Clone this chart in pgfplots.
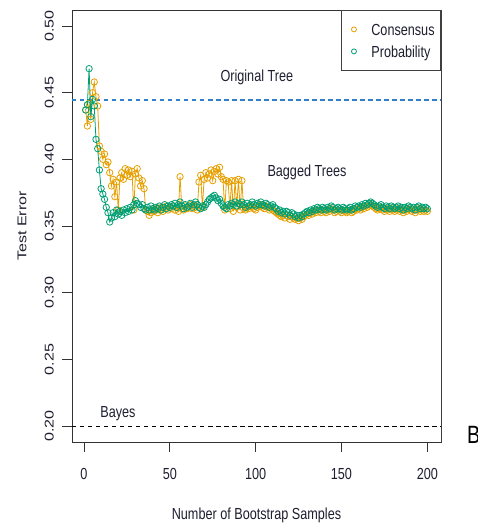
\documentclass[border=0pt]{standalone}
\usepackage{fontspec}
\setmainfont{Liberation Sans}
\newfontfamily\hfont[FakeStretch=0.79]{Liberation Sans}
\usepackage{pgfplots}
\usepackage{pgfplotstable}
\pgfplotsset{compat=1.18}

\definecolor{cons}{HTML}{E69F00}
\definecolor{prob}{HTML}{009E73}
\definecolor{treeblue}{RGB}{47,128,200}
\definecolor{txt}{HTML}{1E1E30}
\newcommand{\hsz}{\hfont\fontsize{16bp}{18bp}\selectfont}
\newcommand{\vsz}{\rmfamily\fontsize{16.1bp}{18bp}\selectfont}

% n, consensus error, probability error
\pgfplotstableread[row sep=\\]{
n cons prob\\
1 0.437 0.437\\ 2 0.425 0.441\\ 3 0.442 0.468\\ 4 0.430 0.432\\ 5 0.450 0.445\\ 6 0.458 0.440\\ 7 0.447 0.415\\ 8 0.440 0.408\\ 9 0.410 0.392\\ 10 0.406 0.378\\
11 0.400 0.374\\ 12 0.404 0.370\\ 13 0.396 0.364\\ 14 0.398 0.360\\ 15 0.390 0.353\\ 16 0.380 0.356\\ 17 0.385 0.360\\ 18 0.372 0.357\\ 19 0.383 0.362\\ 20 0.362 0.359\\
21 0.386 0.361\\ 22 0.390 0.358\\ 23 0.385 0.362\\ 24 0.393 0.360\\ 25 0.388 0.363\\ 26 0.392 0.361\\ 27 0.387 0.364\\ 28 0.391 0.362\\ 29 0.362 0.366\\ 30 0.389 0.369\\
31 0.393 0.367\\ 32 0.386 0.366\\ 33 0.380 0.364\\ 34 0.384 0.366\\ 35 0.378 0.363\\ 36 0.362 0.362\\ 37 0.361 0.364\\ 38 0.358 0.362\\ 39 0.360 0.365\\ 40 0.362 0.363\\
41 0.361 0.362\\ 42 0.363 0.364\\ 43 0.360 0.363\\ 44 0.362 0.365\\ 45 0.364 0.362\\ 46 0.361 0.364\\ 47 0.363 0.366\\ 48 0.365 0.363\\ 49 0.362 0.365\\ 50 0.364 0.364\\
51 0.363 0.366\\ 52 0.365 0.365\\ 53 0.362 0.367\\ 54 0.364 0.364\\ 55 0.361 0.366\\ 56 0.387 0.368\\ 57 0.363 0.365\\ 58 0.362 0.363\\ 59 0.365 0.366\\ 60 0.363 0.364\\
61 0.364 0.365\\ 62 0.366 0.367\\ 63 0.363 0.364\\ 64 0.365 0.366\\ 65 0.364 0.368\\ 66 0.362 0.366\\ 67 0.383 0.364\\ 68 0.388 0.363\\ 69 0.364 0.365\\ 70 0.385 0.364\\
71 0.390 0.366\\ 72 0.386 0.368\\ 73 0.389 0.370\\ 74 0.392 0.371\\ 75 0.384 0.372\\ 76 0.391 0.373\\ 77 0.393 0.371\\ 78 0.389 0.369\\ 79 0.394 0.370\\ 80 0.387 0.367\\
81 0.385 0.365\\ 82 0.362 0.364\\ 83 0.384 0.363\\ 84 0.383 0.366\\ 85 0.363 0.365\\ 86 0.384 0.367\\ 87 0.361 0.366\\ 88 0.384 0.368\\ 89 0.364 0.365\\ 90 0.385 0.367\\
91 0.362 0.366\\ 92 0.384 0.368\\ 93 0.363 0.366\\ 94 0.362 0.364\\ 95 0.364 0.367\\ 96 0.363 0.365\\ 97 0.365 0.366\\ 98 0.364 0.368\\ 99 0.363 0.366\\ 100 0.362 0.365\\
101 0.364 0.367\\ 102 0.365 0.366\\ 103 0.366 0.368\\ 104 0.364 0.366\\ 105 0.363 0.365\\ 106 0.365 0.367\\ 107 0.364 0.366\\ 108 0.362 0.364\\ 109 0.363 0.365\\ 110 0.362 0.366\\
111 0.361 0.364\\ 112 0.360 0.363\\ 113 0.359 0.361\\ 114 0.358 0.362\\ 115 0.357 0.360\\ 116 0.358 0.361\\ 117 0.356 0.359\\ 118 0.358 0.361\\ 119 0.357 0.360\\ 120 0.355 0.358\\
121 0.357 0.360\\ 122 0.356 0.359\\ 123 0.355 0.357\\ 124 0.356 0.358\\ 125 0.354 0.356\\ 126 0.356 0.358\\ 127 0.355 0.357\\ 128 0.357 0.359\\ 129 0.358 0.360\\ 130 0.359 0.361\\
131 0.358 0.360\\ 132 0.360 0.362\\ 133 0.359 0.361\\ 134 0.361 0.363\\ 135 0.360 0.362\\ 136 0.362 0.364\\ 137 0.361 0.363\\ 138 0.360 0.362\\ 139 0.362 0.364\\ 140 0.361 0.363\\
141 0.360 0.362\\ 142 0.362 0.364\\ 143 0.361 0.363\\ 144 0.363 0.365\\ 145 0.362 0.364\\ 146 0.360 0.362\\ 147 0.361 0.363\\ 148 0.362 0.364\\ 149 0.361 0.363\\ 150 0.360 0.362\\
151 0.362 0.364\\ 152 0.361 0.363\\ 153 0.360 0.362\\ 154 0.361 0.363\\ 155 0.362 0.364\\ 156 0.360 0.362\\ 157 0.361 0.363\\ 158 0.363 0.365\\ 159 0.362 0.364\\ 160 0.363 0.365\\
161 0.362 0.364\\ 162 0.364 0.366\\ 163 0.363 0.365\\ 164 0.365 0.367\\ 165 0.364 0.366\\ 166 0.365 0.367\\ 167 0.366 0.368\\ 168 0.365 0.367\\ 169 0.364 0.366\\ 170 0.363 0.365\\
171 0.362 0.364\\ 172 0.363 0.365\\ 173 0.364 0.366\\ 174 0.362 0.364\\ 175 0.361 0.363\\ 176 0.363 0.365\\ 177 0.362 0.364\\ 178 0.361 0.363\\ 179 0.363 0.365\\ 180 0.362 0.364\\
181 0.361 0.363\\ 182 0.362 0.364\\ 183 0.363 0.365\\ 184 0.361 0.363\\ 185 0.362 0.364\\ 186 0.360 0.362\\ 187 0.362 0.364\\ 188 0.361 0.363\\ 189 0.363 0.365\\ 190 0.362 0.364\\
191 0.361 0.363\\ 192 0.362 0.364\\ 193 0.360 0.362\\ 194 0.362 0.364\\ 195 0.363 0.365\\ 196 0.361 0.363\\ 197 0.362 0.364\\ 198 0.361 0.363\\ 199 0.362 0.364\\ 200 0.361 0.363\\
}\errtable

\begin{document}
\begin{tikzpicture}
\useasboundingbox (-72bp,-83bp) rectangle (406bp,442bp);
\begin{axis}[
    scale only axis,
    width=369bp, height=432bp,
    xmin=-6.96, xmax=207.96,
    ymin=0.188, ymax=0.512,
    xtick={0,50,100,150,200},
    xticklabels={0,50,100,150,200},
    ytick={0.20,0.25,0.30,0.35,0.40,0.45,0.50},
    yticklabels={0.20,0.25,0.30,0.35,0.40,0.45,0.50},
    xtick pos=bottom, ytick pos=left,
    tick align=outside,
    major tick length=10bp,
    tick style={black!80, line width=0.8bp},
    axis line style={black!80, line width=0.8bp},
    xticklabel style={font=\hsz, text=txt, inner sep=0pt, anchor=north},
    xticklabel shift=16bp,
    yticklabel style={font=\vsz, text=txt, inner sep=0pt, rotate=90, yscale=0.79, anchor=south},
    yticklabel shift=8bp,
    xlabel={Number of Bootstrap Samples},
    ylabel={Test Error},
    xlabel style={font=\hsz, text=txt, at={(axis description cs:0.5,-0.169)}, anchor=center},
    ylabel style={font=\vsz, text=txt, yscale=0.79, at={(axis description cs:-0.1355,0.5)}, anchor=center},
    legend style={at={(1,1)}, anchor=north east, draw=black!75, line width=0.8bp,
        font=\hsz, text=txt, inner xsep=6bp, inner ysep=9bp, row sep=2bp,
        nodes={inner sep=0pt, text height=15.75bp, text depth=4.25bp}},
    legend cell align=left,
    legend image code/.code={%
        \path (0bp,-3bp) (23bp,3bp);
        \draw[#1, line width=0.8bp] (6bp,0bp) circle (2.5bp);},
]
\addlegendimage{cons}
\addlegendentry{Consensus}
\addlegendimage{prob}
\addlegendentry{Probability}

\addplot[draw=treeblue, line width=1.5bp, dash pattern=on 4.5bp off 3.5bp, forget plot]
    coordinates {(-6.96,0.4445) (207.96,0.4445)};
\addplot[draw=black, line width=0.9bp, dash pattern=on 4.5bp off 3.5bp, forget plot]
    coordinates {(-6.96,0.200) (207.96,0.200)};

\addplot[cons, line width=0.8bp, mark=o, mark size=3.2bp, forget plot]
    table[x=n, y=cons] {\errtable};
\addplot[prob, line width=0.8bp, mark=o, mark size=3.2bp, forget plot]
    table[x=n, y=prob] {\errtable};

\node[font=\hsz, text=txt] at (axis cs:100.7,0.4618) {Original Tree};
\node[font=\hsz, text=txt] at (axis cs:129.9,0.3905) {Bagged Trees};
\node[font=\hsz, text=txt] at (axis cs:19.8,0.209) {Bayes};

\draw[black!45, line width=0.8bp] (rel axis cs:1,0) -- (rel axis cs:1,1);
\end{axis}
\node[anchor=base west, inner sep=0pt, font=\hfont\fontsize{25bp}{30bp}\selectfont]
    at (395bp,-1bp) {B};
\end{tikzpicture}
\end{document}
